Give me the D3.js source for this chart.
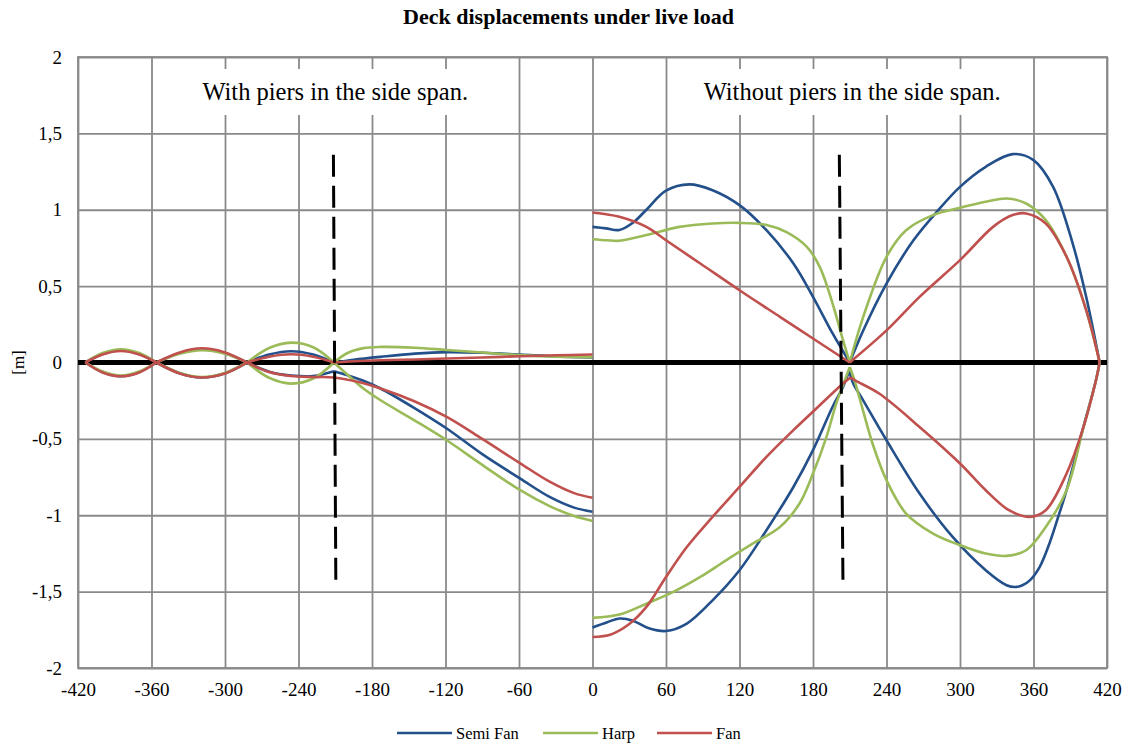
<!DOCTYPE html>
<html>
<head>
<meta charset="utf-8">
<script src="https://cdn.jsdelivr.net/npm/d3@7"></script>
<style>
  body { margin: 0; background: #fff; }
  text { font-family: "Liberation Serif", "Times New Roman", serif; fill: #000; }
</style>
</head>
<body>
<div id="chart"></div>
<script>
// Axis ticks
var xTickValues = [-420, -360, -300, -240, -180, -120, -60, 0, 60, 120, 180, 240, 300, 360, 420];
var yTickValues = [-2, -1.5, -1, -0.5, 0, 0.5, 1, 1.5, 2];

// Series names and colours
var seriesNames = ["Semi Fan", "Harp", "Fan"];
var seriesColors = ["#23508a", "#9bbb59", "#c0504d"];

// Support positions where the envelopes pinch to a point
var supportX = [-414, -356, -282, -211, 210, 414];

// Pier marker lines (dashed) and the two span captions
var pierLines = [[-211.5, 1.36, -209.5, -1.48], [201.5, 1.36, 204.5, -1.48]];
var spanLabels = ["With piers in the side span.", "Without piers in the side span."];
var spanLabelX = [-210, 212];

// With piers (left half) - [x, displacement]
var semiFanWithUp = [[-414,0],[-400,0.055],[-385,0.08],[-370,0.055],[-356,0],[-337,0.06],[-319,0.085],[-300,0.06],[-282,0],[-264,0.052],[-246,0.074],[-228,0.052],[-211,0],[-195,0.018],[-173,0.037],[-145,0.058],[-119,0.068],[-90,0.064],[-59,0.052],[-30,0.04],[0,0.033]];
var semiFanWithDown = [[-414,0],[-400,-0.062],[-385,-0.09],[-370,-0.062],[-356,0],[-337,-0.07],[-319,-0.098],[-300,-0.07],[-282,0],[-264,-0.06],[-246,-0.085],[-228,-0.088],[-211,-0.057],[-200,-0.083],[-187,-0.12],[-173,-0.17],[-145,-0.3],[-119,-0.432],[-90,-0.6],[-59,-0.76],[-35,-0.88],[-15,-0.95],[0,-0.977]];
var harpWithUp = [[-414,0],[-400,0.062],[-385,0.087],[-370,0.062],[-356,0],[-337,0.057],[-319,0.08],[-300,0.057],[-282,0],[-264,0.095],[-246,0.13],[-228,0.1],[-211,0],[-200,0.062],[-187,0.094],[-173,0.102],[-145,0.097],[-119,0.082],[-90,0.065],[-59,0.048],[-30,0.038],[0,0.035]];
var harpWithDown = [[-414,0],[-400,-0.058],[-385,-0.085],[-370,-0.058],[-356,0],[-337,-0.068],[-319,-0.095],[-300,-0.068],[-282,0],[-264,-0.1],[-246,-0.138],[-228,-0.105],[-211,0],[-200,-0.08],[-187,-0.17],[-173,-0.247],[-145,-0.38],[-119,-0.509],[-90,-0.67],[-59,-0.836],[-35,-0.94],[-15,-1.005],[0,-1.037]];
var fanWithUp = [[-414,0],[-400,0.052],[-385,0.075],[-370,0.052],[-356,0],[-337,0.066],[-319,0.093],[-300,0.066],[-282,0],[-264,0.038],[-246,0.054],[-228,0.038],[-211,0],[-190,0.01],[-173,0.015],[-145,0.02],[-119,0.026],[-90,0.033],[-59,0.041],[-30,0.047],[0,0.052]];
var fanWithDown = [[-414,0],[-400,-0.065],[-385,-0.09],[-370,-0.065],[-356,0],[-337,-0.072],[-319,-0.098],[-300,-0.072],[-282,0],[-264,-0.062],[-246,-0.088],[-228,-0.095],[-211,-0.098],[-190,-0.13],[-173,-0.17],[-145,-0.255],[-119,-0.356],[-90,-0.5],[-59,-0.66],[-35,-0.78],[-15,-0.855],[0,-0.885]];

// Without piers (right half)
var semiFanWithoutUp = [[0,0.888],[11,0.878],[22,0.868],[33,0.915],[44,1.0],[60,1.125],[79,1.166],[98,1.128],[120,1.03],[142,0.866],[164,0.648],[180,0.43],[196,0.19],[210,0],[221,0.21],[240,0.517],[262,0.8],[281,0.986],[300,1.15],[321,1.281],[343,1.364],[360,1.325],[376,1.15],[392,0.779],[403,0.43],[414,0]];
var semiFanWithoutDown = [[0,-1.735],[12,-1.7],[22,-1.676],[33,-1.69],[46,-1.74],[60,-1.758],[77,-1.709],[98,-1.557],[120,-1.36],[142,-1.098],[164,-0.815],[180,-0.574],[196,-0.29],[204.5,-0.16],[209.5,-0.055],[213,-0.14],[220,-0.235],[240,-0.509],[267,-0.858],[294,-1.142],[321,-1.36],[338,-1.458],[345,-1.47],[351,-1.458],[357,-1.426],[365,-1.339],[373,-1.185],[381,-0.99],[387,-0.836],[400,-0.443],[411,-0.116],[414,0]];
var harpWithoutUp = [[0,0.807],[12,0.8],[22,0.797],[44,0.834],[71,0.888],[98,0.91],[120,0.914],[142,0.9],[158,0.855],[175,0.757],[185.5,0.626],[196,0.386],[204.5,0.146],[210,0],[221,0.299],[240,0.692],[256,0.866],[278,0.965],[300,1.013],[321,1.052],[338,1.074],[354,1.041],[370,0.932],[387,0.692],[403,0.343],[414,0]];
var harpWithoutDown = [[0,-1.672],[22,-1.65],[44,-1.579],[66,-1.502],[88,-1.404],[109,-1.295],[131,-1.185],[153,-1.077],[169,-0.923],[180,-0.727],[191,-0.487],[199,-0.268],[206,-0.116],[210,-0.03],[214,-0.12],[220,-0.29],[229,-0.54],[240,-0.771],[256,-0.989],[278,-1.12],[300,-1.196],[321,-1.251],[338,-1.266],[354,-1.229],[370,-1.077],[387,-0.836],[400,-0.45],[411,-0.116],[414,0]];
var fanWithoutUp = [[0,0.982],[10,0.972],[22,0.954],[44,0.888],[60,0.8],[88,0.648],[120,0.473],[153,0.299],[180,0.157],[210,0],[240,0.21],[267,0.43],[300,0.67],[327,0.888],[343,0.965],[354,0.976],[370,0.91],[387,0.692],[403,0.343],[414,0]];
var fanWithoutDown = [[0,-1.797],[15,-1.78],[30,-1.712],[44,-1.6],[60,-1.404],[77,-1.208],[98,-1.011],[120,-0.815],[142,-0.618],[164,-0.443],[185.5,-0.28],[204.5,-0.138],[210.5,-0.098],[215,-0.12],[234,-0.203],[267,-0.422],[300,-0.661],[321,-0.836],[340,-0.967],[357,-1.011],[370,-0.967],[387,-0.727],[400,-0.443],[411,-0.116],[414,0]];

var curves = [
    { s: 0, pts: semiFanWithUp }, { s: 0, pts: semiFanWithDown },
    { s: 1, pts: harpWithUp }, { s: 1, pts: harpWithDown },
    { s: 2, pts: fanWithUp }, { s: 2, pts: fanWithDown },
    { s: 0, pts: semiFanWithoutUp }, { s: 0, pts: semiFanWithoutDown },
    { s: 1, pts: harpWithoutUp }, { s: 1, pts: harpWithoutDown },
    { s: 2, pts: fanWithoutUp }, { s: 2, pts: fanWithoutDown }
];

// Layout
var width = 1129, height = 746;
var margin = { top: 57, right: 22, bottom: 78, left: 78 };
var innerWidth = width - margin.left - margin.right;
var innerHeight = height - margin.top - margin.bottom;
var gridColor = "#8a8a8a";

var x = d3.scaleLinear().domain([-420, 420]).range([0, innerWidth]);
var y = d3.scaleLinear().domain([-2, 2]).range([innerHeight, 0]);

var svg = d3.select("#chart").append("svg")
    .attr("width", width)
    .attr("height", height);

// Title
svg.append("text")
    .attr("x", width / 2 + 4)
    .attr("y", 24)
    .attr("text-anchor", "middle")
    .style("font-size", "22px")
    .style("font-weight", "bold")
    .text("Deck displacements under live load");

var g = svg.append("g").attr("transform", `translate(${margin.left}, ${margin.top})`);

// Gridlines via axes
var yAxis = g.append("g")
    .call(d3.axisLeft(y).tickValues(yTickValues).tickSize(-innerWidth).tickPadding(16)
        .tickFormat(d => String(d).replace(".", ",")));
var xAxis = g.append("g")
    .attr("transform", `translate(0, ${innerHeight})`)
    .call(d3.axisBottom(x).tickValues(xTickValues).tickSize(-innerHeight).tickPadding(15)
        .tickFormat(d => String(d)));

[xAxis, yAxis].forEach(function (ax) {
    ax.attr("font-family", null);
    ax.select(".domain").remove();
    ax.selectAll("line").attr("stroke", gridColor).attr("stroke-width", 1.8);
    ax.selectAll("text").style("font-size", "19px").attr("fill", "#000");
});

// Plot border
g.append("rect")
    .attr("width", innerWidth).attr("height", innerHeight)
    .attr("fill", "none").attr("stroke", gridColor).attr("stroke-width", 1.8);

// Span captions with white backing
var captions = g.append("g");
spanLabels.forEach(function (lab, i) {
    var t = captions.append("text")
        .attr("x", x(spanLabelX[i]))
        .attr("y", 43)
        .attr("text-anchor", "middle")
        .style("font-size", "24.5px")
        .text(lab);
    var bb = t.node().getBBox();
    captions.insert("rect", () => t.node())
        .attr("x", bb.x - 28).attr("y", 12)
        .attr("width", bb.width + 56).attr("height", 46)
        .attr("fill", "#fff");
});

// Zero line
g.append("line")
    .attr("x1", x(-420)).attr("x2", x(420))
    .attr("y1", y(0)).attr("y2", y(0))
    .attr("stroke", "#000").attr("stroke-width", 5);

// Split a curve where it pinches at a support so the kink stays sharp
function splitAtSupports(pts) {
    var segs = [], cur = [pts[0]];
    for (var i = 1; i < pts.length; i++) {
        cur.push(pts[i]);
        if (i < pts.length - 1) {
            var a = pts[i - 1][1], b = pts[i][1], c = pts[i + 1][1];
            var ext = (b - a) * (c - b) < 0;
            var near = supportX.some(s => Math.abs(s - pts[i][0]) <= 2);
            if (ext && near) { segs.push(cur); cur = [pts[i]]; }
        }
    }
    segs.push(cur);
    return segs;
}

var line = d3.line()
    .x(d => x(d[0]))
    .y(d => y(d[1]))
    .curve(d3.curveCatmullRom.alpha(0.5));

curves.forEach(function (c) {
    var d = splitAtSupports(c.pts).map(seg => line(seg)).join("");
    g.append("path")
        .attr("d", d)
        .attr("fill", "none")
        .attr("stroke", seriesColors[c.s])
        .attr("stroke-width", 2.6)
        .attr("stroke-linejoin", "round");
});

// Dashed pier lines
g.selectAll(".pier").data(pierLines).enter().append("line")
    .attr("class", "pier")
    .attr("x1", d => x(d[0])).attr("y1", d => y(d[1]))
    .attr("x2", d => x(d[2])).attr("y2", d => y(d[3]))
    .attr("stroke", "#000").attr("stroke-width", 3)
    .attr("stroke-dasharray", "22,9");

// Y label
svg.append("text")
    .attr("transform", `translate(24, ${margin.top + y(0)}) rotate(-90)`)
    .attr("text-anchor", "middle")
    .style("font-size", "17px")
    .text("[m]");

// Legend
var legendX = [397, 543, 657];
var legend = svg.append("g");
seriesNames.forEach(function (name, i) {
    legend.append("line")
        .attr("x1", legendX[i]).attr("x2", legendX[i] + 55)
        .attr("y1", 733).attr("y2", 733)
        .attr("stroke", seriesColors[i]).attr("stroke-width", 2.6);
    legend.append("text")
        .attr("x", legendX[i] + 59).attr("y", 739)
        .style("font-size", "16.5px")
        .text(name);
});
</script>
</body>
</html>
